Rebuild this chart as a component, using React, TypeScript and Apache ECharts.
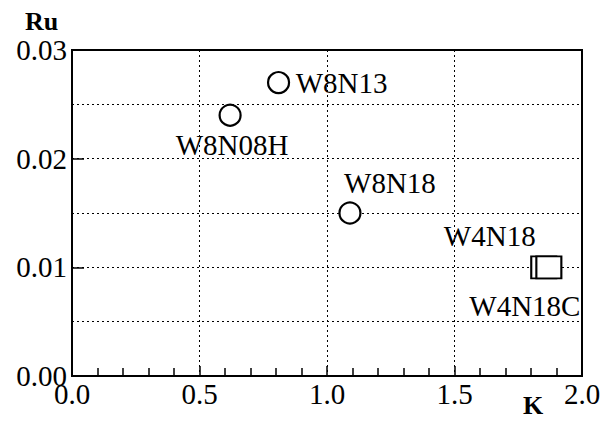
import React, { useEffect, useRef } from "react";
import * as echarts from "echarts";

const circleNames = ["W8N13", "W8N08H", "W8N18"];
const circleK = [0.81, 0.62, 1.09];
const circleRu = [0.027, 0.024, 0.015];

const squareNames = ["W4N18", "W4N18C"];
const squareK = [1.85, 1.87];
const squareRu = [0.01, 0.01];

const xTicks = [0, 0.5, 1.0, 1.5, 2.0];
const yTicks = [0, 0.01, 0.02, 0.03];

const FONT = "Times New Roman";

// label placement relative to symbol centre (style only)
const circleLabelOffsets: [number, number][] = [
  [63, 0],
  [2, 30],
  [40, -30],
];
const squareLabelOffsets: [number, number][] = [
  [-54, -31],
  [-24, 39],
];

export default function App() {
  const ref = useRef<HTMLDivElement>(null);
  useEffect(() => {
    if (!ref.current) return;
    const chart = echarts.init(ref.current, null, { renderer: "svg" });
    const labelStyle = (off: [number, number], name: string) => ({
      show: true,
      position: "inside",
      offset: off,
      formatter: name,
      fontFamily: FONT,
      fontSize: 29,
      color: "#000",
      align: "center",
      verticalAlign: "middle",
    });
    chart.setOption({
      animation: false,
      backgroundColor: "#fff",
      textStyle: { fontFamily: FONT },
      grid: {
        left: 72,
        right: 23,
        top: 50,
        bottom: 45,
        show: true,
        borderColor: "#000",
        borderWidth: 2,
        backgroundColor: "transparent",
      },
      xAxis: {
        type: "value",
        min: xTicks[0],
        max: xTicks[xTicks.length - 1],
        interval: 0.5,
        axisLine: { show: true, onZero: false, lineStyle: { color: "#000", width: 2 } },
        axisTick: { show: true, inside: true, length: 10, lineStyle: { color: "#000", width: 1.5 } },
        minorTick: { show: true, splitNumber: 5, length: 8, lineStyle: { color: "#000", width: 1.5 } },
        splitLine: { show: true, lineStyle: { color: "#000", width: 1, type: [2, 3] } },
        axisLabel: {
          formatter: (v: number) => v.toFixed(1),
          fontFamily: FONT,
          fontSize: 29,
          color: "#000",
          margin: 3,
        },
      },
      yAxis: {
        type: "value",
        min: yTicks[0],
        max: yTicks[yTicks.length - 1],
        interval: 0.01,
        axisLine: { show: true, onZero: false, lineStyle: { color: "#000", width: 2 } },
        axisTick: { show: true, inside: true, length: 12, lineStyle: { color: "#000", width: 1.5 } },
        minorTick: { show: false, splitNumber: 2 },
        splitLine: { show: true, lineStyle: { color: "#000", width: 1, type: [2, 3] } },
        minorSplitLine: { show: true, lineStyle: { color: "#000", width: 1, type: [2, 3] } },
        axisLabel: {
          formatter: (v: number) => v.toFixed(2),
          fontFamily: FONT,
          fontSize: 29,
          color: "#000",
          margin: 5,
        },
      },
      graphic: [
        {
          type: "text",
          left: 25,
          top: 8,
          style: { text: "Ru", fontFamily: FONT, fontWeight: "bold", fontSize: 26, fill: "#000" },
        },
        {
          type: "text",
          left: 523,
          top: 392,
          style: { text: "K", fontFamily: FONT, fontWeight: "bold", fontSize: 26, fill: "#000" },
        },
      ],
      series: [
        {
          type: "scatter",
          symbol: "circle",
          symbolSize: 21,
          itemStyle: { color: "#fff", borderColor: "#000", borderWidth: 2.2, opacity: 1 },
          data: circleK.map((k, i) => ({
            value: [k, circleRu[i]],
            label: labelStyle(circleLabelOffsets[i], circleNames[i]),
          })),
          z: 3,
        },
        {
          type: "scatter",
          symbol: "rect",
          symbolSize: [25, 22],
          itemStyle: { color: "#fff", borderColor: "#000", borderWidth: 2, opacity: 1 },
          data: squareK.map((k, i) => ({
            value: [k, squareRu[i]],
            label: labelStyle(squareLabelOffsets[i], squareNames[i]),
          })),
          z: 3,
        },
      ],
    });
    return () => chart.dispose();
  }, []);
  return (
    <div
      ref={ref}
      style={{ position: "fixed", left: 0, top: 0, width: 605, height: 421, background: "#fff" }}
    />
  );
}
